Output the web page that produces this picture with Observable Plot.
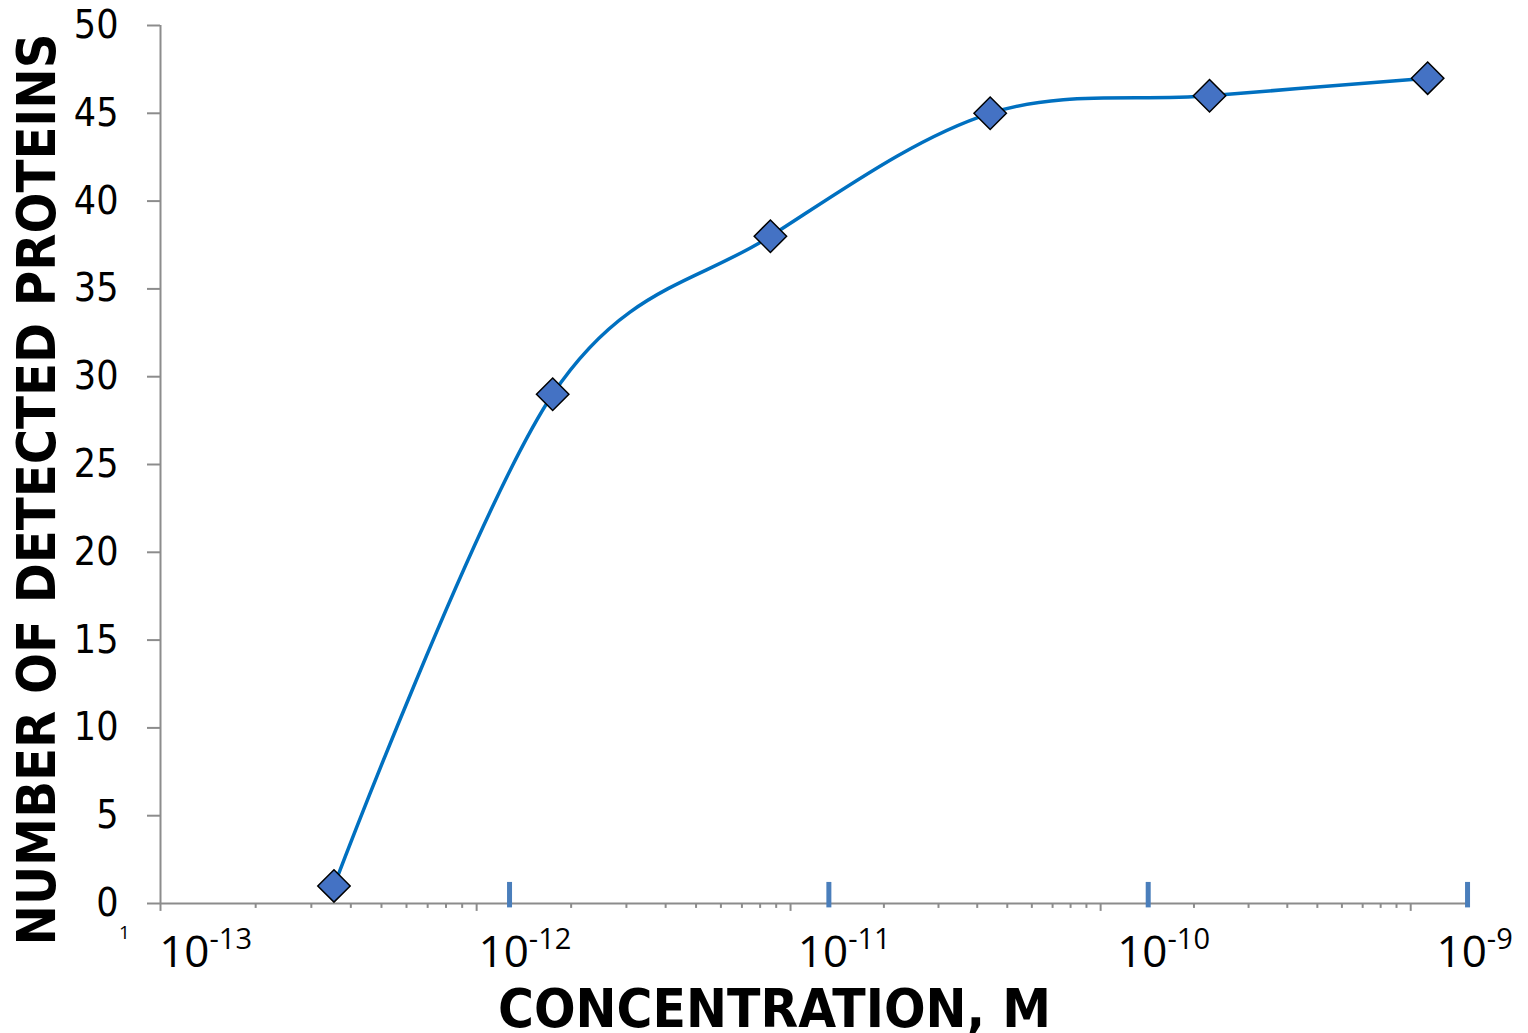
<!DOCTYPE html>
<html>
<head>
<meta charset="utf-8">
<script src="https://cdn.jsdelivr.net/npm/d3@7"></script>
<script src="https://cdn.jsdelivr.net/npm/@observablehq/plot@0.6"></script>
<style>
  html, body { margin: 0; padding: 0; background: #fff; }
  svg { display: block; }
</style>
</head>
<body>
<script>
// ---- data ----
const concentrationsM = [2.82e-13, 1.365e-12, 6.56e-12, 3.2e-11, 1.556e-10, 7.5e-10];
const detectedProteins = [1, 29, 38, 45, 46, 47];

// decade tick labels (hand-placed labels in the original)
const decadeValues = [1e-13, 1e-12, 1e-11, 1e-10, 1e-9];
const decadeLabels = ["10^-13", "10^-12", "10^-11", "10^-10", "10^-9"];
// blue major tick marks
const blueTickValues = [1e-12, 1e-11, 1e-10, 1e-9];
// grey log-axis major tick exponents (offset grid of the underlying axis)
const greyMajorExponents = [-13.093, -12.103, -11.120, -10.149, -9.178];
const yTicks = [0, 5, 10, 15, 20, 25, 30, 35, 40, 45, 50];

const xDomain = [10 ** -13.093, 10 ** -8.997];

const yTitle = "NUMBER OF DETECTED PROTEINS";
const xTitle = "CONCENTRATION, M";
const strayLabel = ["1"];

// ---- derived tables ----
const points = concentrationsM.map((c, i) => ({c, n: detectedProteins[i]}));
const greyTicks = [];
greyMajorExponents.forEach((e, i) => {
  const span = i < greyMajorExponents.length - 1 ? greyMajorExponents[i + 1] - e : greyMajorExponents[i] - greyMajorExponents[i - 1];
  for (let k = 1; k <= 9; k++) {
    const v = 10 ** (e + Math.log10(k) * span);
    if (v >= xDomain[0] * 0.999 && v <= xDomain[1]) greyTicks.push({v, major: k === 1});
  }
});
const labelRows = decadeValues.map((v, i) => ({v, label: decadeLabels[i]}));

const GREY = "#8c8c8c";
const tickFont = "'DejaVu Sans Condensed', 'DejaVu Sans', sans-serif";

const svg = Plot.plot({
  width: 1528,
  height: 1033,
  marginLeft: 160,
  marginRight: 60,
  marginTop: 25,
  marginBottom: 130,
  style: {background: "white", overflow: "visible"},
  x: {type: "log", domain: xDomain, axis: null},
  y: {domain: [0, 50], axis: null},
  marks: [
    // axis lines
    Plot.ruleY([0], {stroke: GREY, strokeWidth: 2}),
    Plot.ruleX([xDomain[0]], {y1: 0, y2: 50, stroke: GREY, strokeWidth: 2}),
    // y axis ticks & labels
    Plot.axisY({
      ticks: yTicks, tickSize: 13, tickPadding: 29, stroke: GREY, strokeWidth: 2,
      fill: "black", fontSize: 39, fontFamily: tickFont, label: null
    }),
    // grey minor ticks under the x axis
    Plot.ruleX(greyTicks, {x: "v", y1: 0, y2: d => d.major ? -0.45 : -0.28, stroke: GREY, strokeWidth: 2}),
    // blue decade ticks
    Plot.ruleX(blueTickValues, {y1: -0.25, y2: 1.2, stroke: "#4a7ebb", strokeWidth: 5}),
    // decade labels
    Plot.text(labelRows, {
      x: "v", text: "label", frameAnchor: "bottom", lineAnchor: "bottom",
      textAnchor: "start", dx: -31, dy: 63, fontSize: 44,
      fontFamily: "'Open Sans', 'Liberation Sans', sans-serif", fill: "black"
    }),
    // stray label
    Plot.text(strayLabel, {
      frameAnchor: "bottom-left", lineAnchor: "bottom", textAnchor: "middle",
      dx: -36, dy: 35, fontSize: 19, fontFamily: "'Open Sans', sans-serif", fill: "black"
    }),
    // series
    Plot.line(points, {x: "c", y: "n", curve: "cardinal", stroke: "#0070C0", strokeWidth: 3.5}),
    Plot.dot(points, {x: "c", y: "n", symbol: "diamond2", r: 14.6, fill: "#4472C4", stroke: "black", strokeWidth: 1.5}),
    // titles
    Plot.text([yTitle], {
      frameAnchor: "left", rotate: -90, textAnchor: "middle", lineAnchor: "middle",
      dx: -123, dy: 25, fontSize: 54, fontWeight: "bold",
      fontFamily: "'DejaVu Sans', sans-serif", fill: "black"
    }),
    Plot.text([xTitle], {
      frameAnchor: "bottom", textAnchor: "middle", lineAnchor: "bottom",
      dx: -40, dy: 123, fontSize: 54, fontWeight: "bold",
      fontFamily: "'DejaVu Sans', sans-serif", fill: "black"
    })
  ]
});
document.body.append(svg);

d3.select(svg).selectAll("text").each(function() {
  const t = this.textContent;
  const sel = d3.select(this);
  if (decadeLabels.includes(t)) {
    // superscripts for the decade labels
    const [base, exp] = t.split("^");
    sel.text(null);
    sel.append("tspan").text(base);
    sel.append("tspan").attr("font-size", 29).attr("dy", "-0.6em").text(exp);
  } else if (t === yTitle) {
    sel.attr("textLength", 912).attr("lengthAdjust", "spacingAndGlyphs");
  } else if (t === xTitle) {
    sel.attr("textLength", 553).attr("lengthAdjust", "spacingAndGlyphs");
  }
});
</script>
</body>
</html>
